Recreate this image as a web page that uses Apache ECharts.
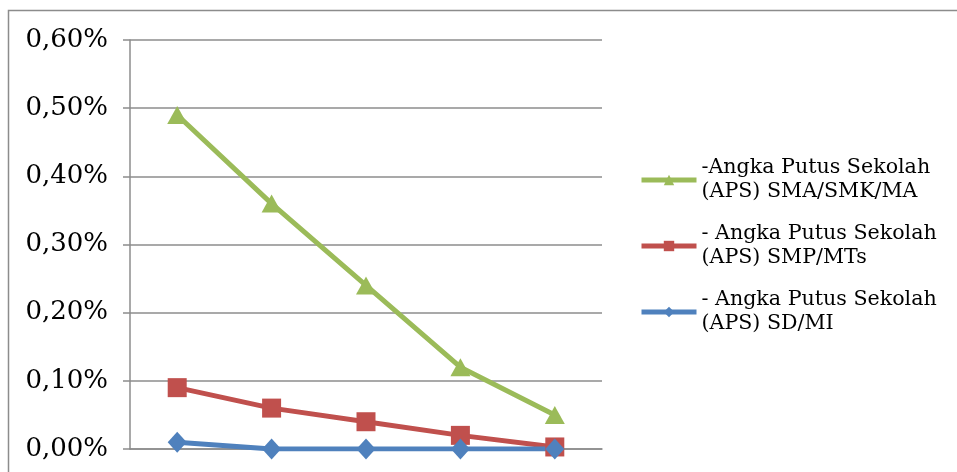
<!DOCTYPE html>
<html>
<head>
<meta charset="utf-8">
<script src="https://cdn.jsdelivr.net/npm/echarts@6/dist/echarts.min.js"></script>
<style>html,body{margin:0;padding:0;background:#fff;}#c{width:957px;height:472px;}</style>
</head>
<body>
<div id="c"></div>
<script>
var categories = ['1', '2', '3', '4', '5'];
var seriesNames = [
  '-Angka Putus Sekolah\n(APS) SMA/SMK/MA',
  '- Angka Putus Sekolah\n(APS) SMP/MTs',
  '- Angka Putus Sekolah\n(APS) SD/MI'
];
var smaValues = [0.49, 0.36, 0.24, 0.12, 0.05];
var smpValues = [0.09, 0.06, 0.04, 0.02, 0.003];
var sdValues = [0.01, 0, 0, 0, 0];
var yTicks = [0, 0.1, 0.2, 0.3, 0.4, 0.5, 0.6];

var chart = echarts.init(document.getElementById('c'));
var font = 'DejaVu Serif';
function mk(name, data, color, symbol, size) {
  return {
    name: name, type: 'line', data: data,
    symbol: symbol, symbolSize: size,
    lineStyle: { color: color, width: 5 },
    itemStyle: { color: color },
    emphasis: { disabled: true },
    animation: false
  };
}
chart.setOption({
  animation: false,
  graphic: [{
    type: 'rect', shape: { x: 8.5, y: 10.5, width: 1000, height: 500 },
    style: { fill: 'none', stroke: '#8c8c8c', lineWidth: 1.5 }, silent: true
  }],
  grid: { left: 130, right: 355, top: 40, bottom: 23 },
  xAxis: {
    type: 'category', data: categories, boundaryGap: true,
    axisLine: { lineStyle: { color: '#8c8c8c', width: 1.5 } },
    axisTick: { show: false }, axisLabel: { show: false }
  },
  yAxis: {
    type: 'value', min: yTicks[0], max: yTicks[yTicks.length - 1], interval: 0.1,
    axisLine: { show: true, lineStyle: { color: '#8c8c8c', width: 1.5 } },
    axisTick: { show: true, length: 7, lineStyle: { color: '#8c8c8c', width: 1.5 } },
    splitLine: { lineStyle: { color: '#8c8c8c', width: 1.5 } },
    axisLabel: {
      margin: 22, color: '#000', fontFamily: font, fontSize: 26,
      formatter: function (v) { return v.toFixed(2).replace('.', ',') + '%'; }
    }
  },
  legend: {
    orient: 'vertical', left: 634, top: 139,
    itemWidth: 55, itemHeight: 13, itemGap: -6,
    data: [seriesNames[0], seriesNames[1], seriesNames[2]],
    lineStyle: { width: 5 },
    textStyle: { fontFamily: font, fontSize: 20.6, lineHeight: 24, color: '#000', padding: [24, 0, 0, 0] },
    selectedMode: false
  },
  series: [
    mk(seriesNames[0], smaValues, '#9BBB59', 'triangle', [20, 18]),
    mk(seriesNames[1], smpValues, '#C0504D', 'rect', 19),
    mk(seriesNames[2], sdValues, '#4F81BD', 'diamond', [19, 21])
  ]
});
</script>
</body>
</html>
